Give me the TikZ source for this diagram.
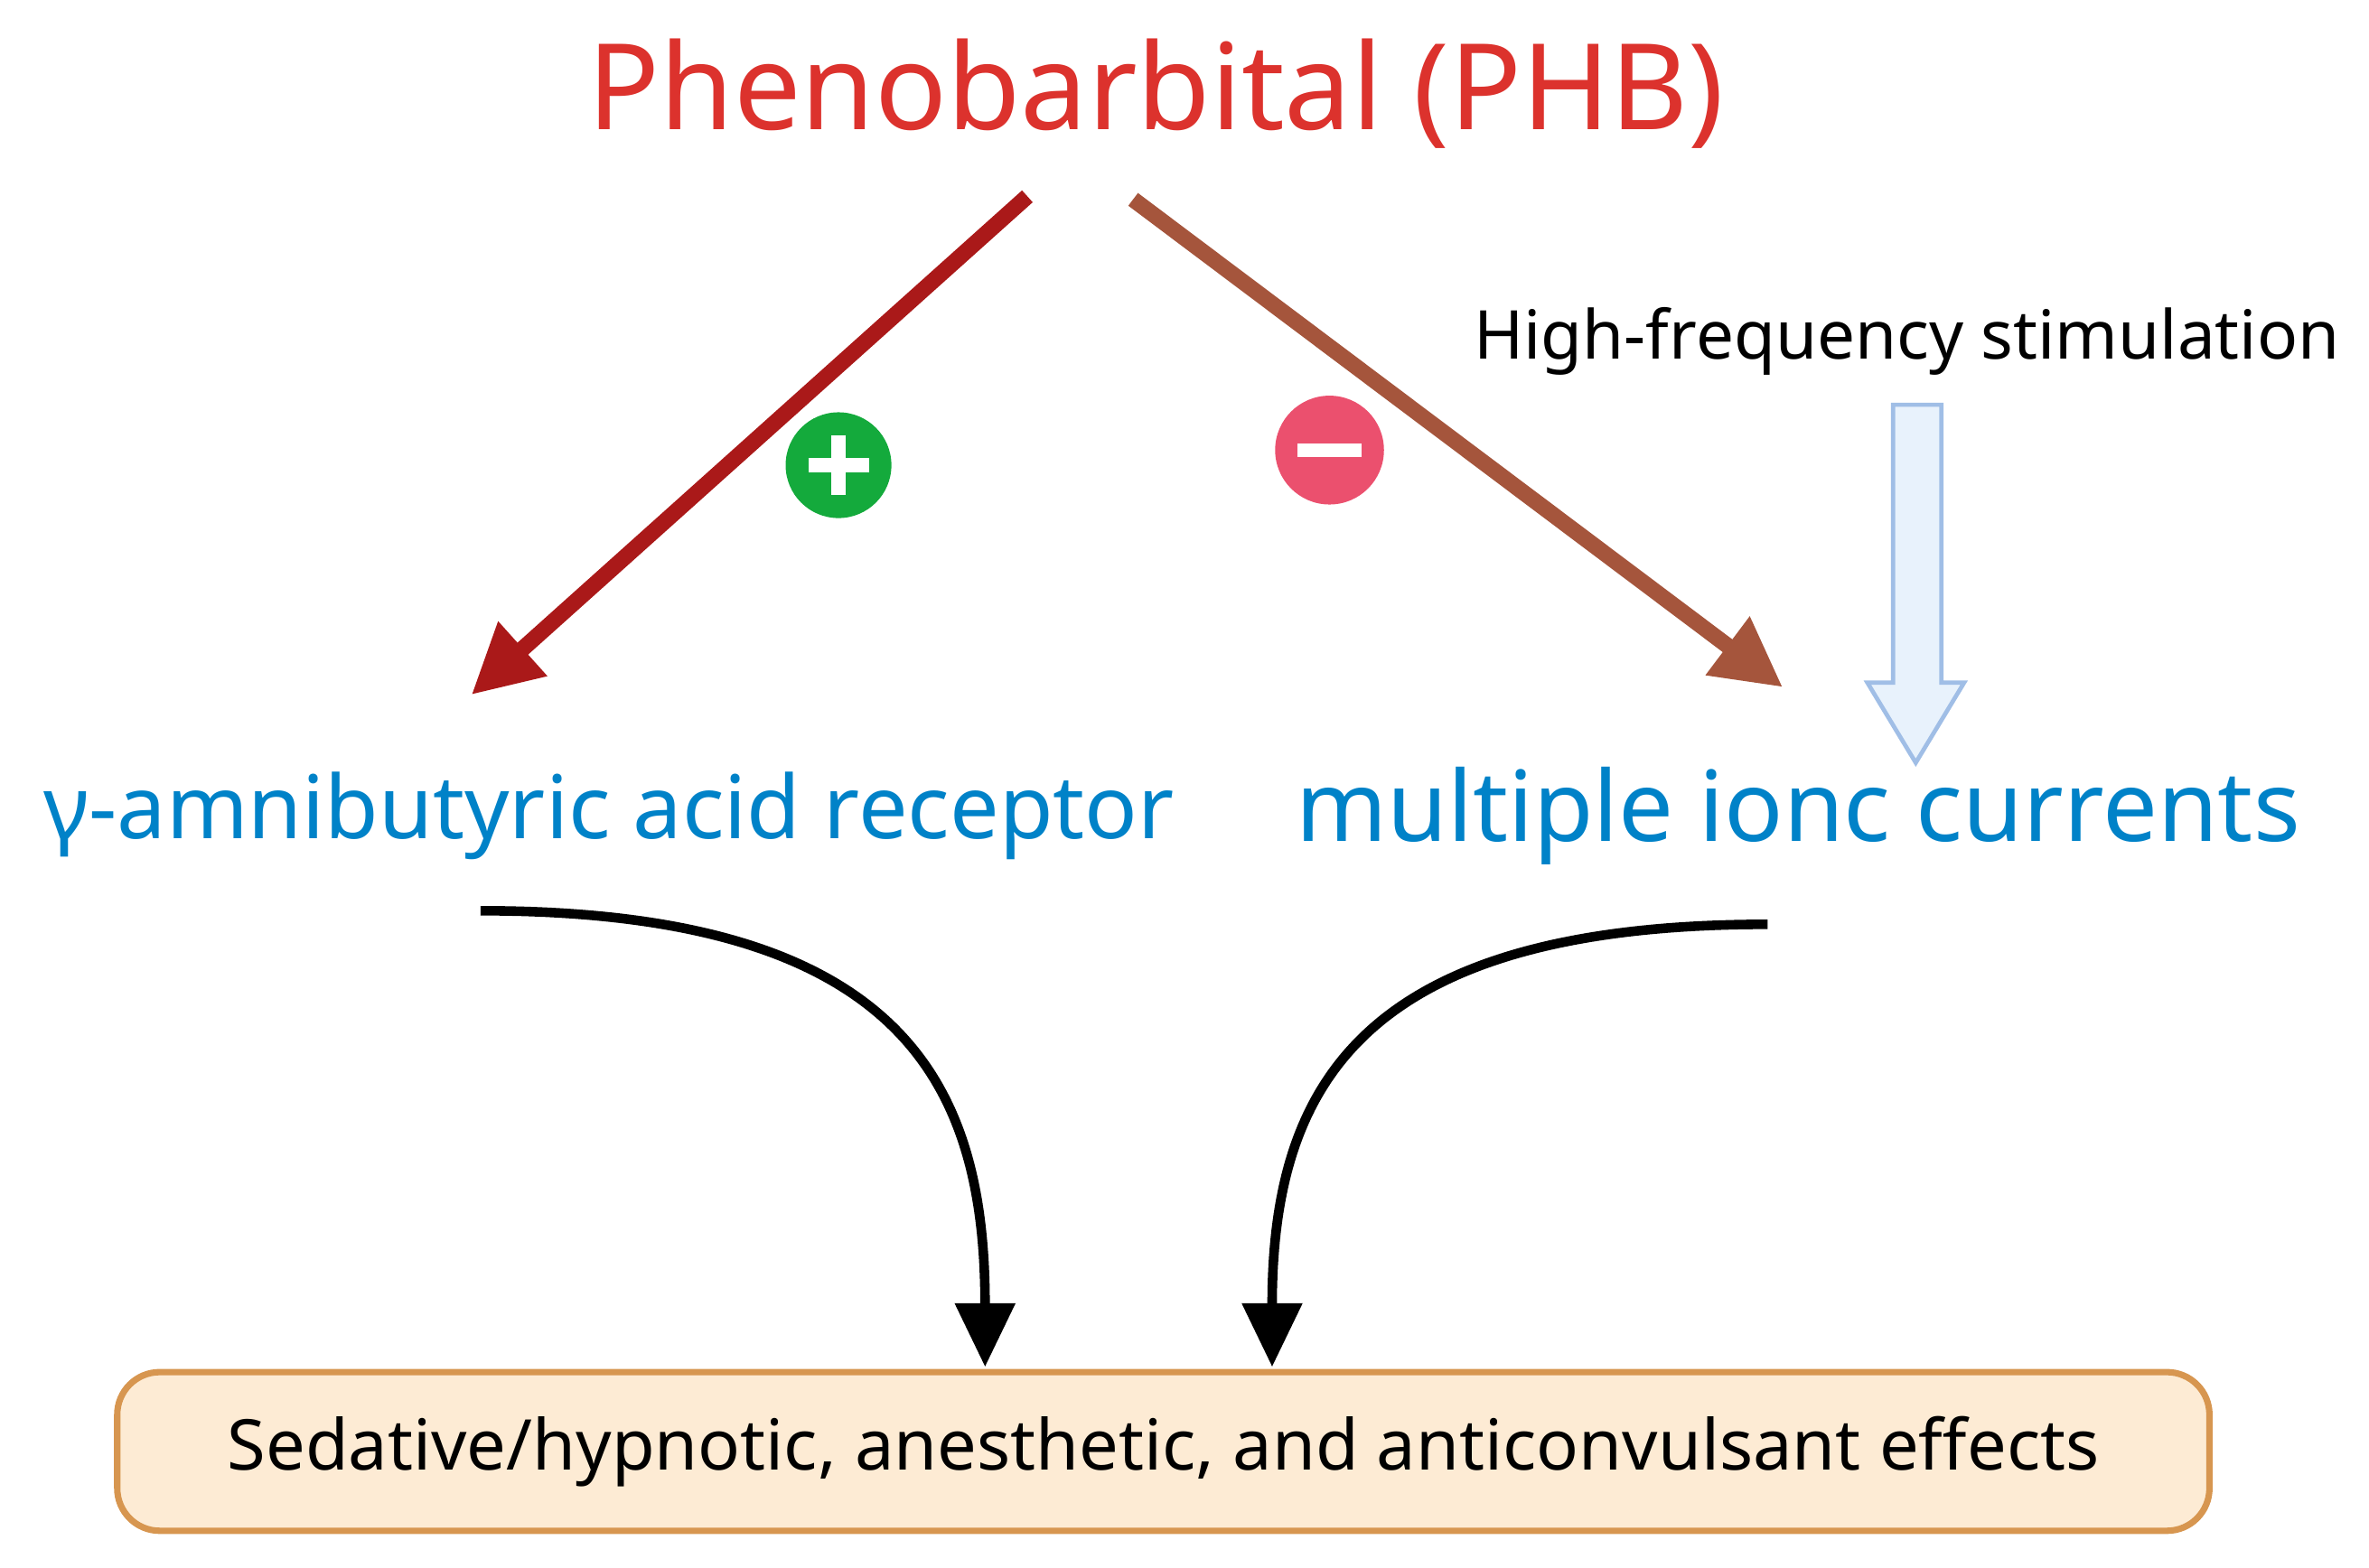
\documentclass[tikz,border=0pt]{standalone}
\usepackage{fontspec}
\setmainfont{Noto Sans}
\usetikzlibrary{arrows.meta}
\definecolor{tred}{RGB}{220,50,45}
\definecolor{dred}{RGB}{170,25,25}
\definecolor{brn}{RGB}{165,85,60}
\definecolor{blu}{RGB}{0,130,200}
\definecolor{grn}{RGB}{20,170,60}
\definecolor{pnk}{RGB}{235,80,110}
\definecolor{lblue}{RGB}{232,242,252}
\definecolor{lbd}{RGB}{160,190,230}
\definecolor{boxf}{RGB}{253,235,212}
\definecolor{boxd}{RGB}{215,150,80}
\begin{document}
\begin{tikzpicture}[x=0.01cm,y=-0.01cm,
  big/.style={line width=3pt,-{Triangle[length=13pt,width=13pt]}},
  blk/.style={line width=1.8pt,-{Triangle[length=12pt,width=11pt]}},
  txt/.style={inner sep=0pt}]
\useasboundingbox (0,0) rectangle (1568,1037.6);
\node[txt,text=tred,font=\fontsize{22.5}{26}\selectfont] (t) at (765,62) {Phenobarbital (PHB)};
\coordinate (a1) at (680,130); \coordinate (a2) at (312,460);
\coordinate (b1) at (750,132); \coordinate (b2) at (1180,455);
\draw[big,dred] (a1) -- (a2);
\draw[big,brn] (b1) -- (b2);
\node[circle,fill=grn,minimum size=0.7cm,inner sep=0pt] (pl) at (555,308) {};
\draw[white,line width=2.6pt] (535,308) -- (575,308) (555,288) -- (555,328);
\node[circle,fill=pnk,minimum size=0.72cm,inner sep=0pt] (mi) at (880,298) {};
\draw[white,line width=2.6pt] (859,298) -- (901,298);
\node[txt,font=\fontsize{12.7}{15}\selectfont] (hf) at (1262,226) {High-frequency stimulation};
\draw[lbd,fill=lblue,line width=0.8pt] (1253,268) -- (1285,268) -- (1285,452) -- (1300,452) -- (1268,505) -- (1236,452) -- (1253,452) -- cycle;
\node[txt,text=blu,font=\fontsize{16.5}{19}\selectfont] (g) at (403,540) {γ-amnibutyric acid receptor};
\node[txt,text=blu,font=\fontsize{18.4}{21}\selectfont] (m) at (1190,540) {multiple ionc currents};
\node[draw=boxd,fill=boxf,line width=1.2pt,rounded corners=8pt,minimum width=13.84cm,minimum height=1.05cm,font=\fontsize{13.2}{16}\selectfont] (box) at (770,961) {Sedative/hypnotic, anesthetic, and anticonvulsant effects};
\coordinate (c1) at (318,603); \coordinate (c2) at (1170,612);
\draw[blk] (c1) .. controls (600,603) and (652,720) .. (652,905);
\draw[blk] (c2) .. controls (900,612) and (842,720) .. (842,905);
\end{tikzpicture}
\end{document}
